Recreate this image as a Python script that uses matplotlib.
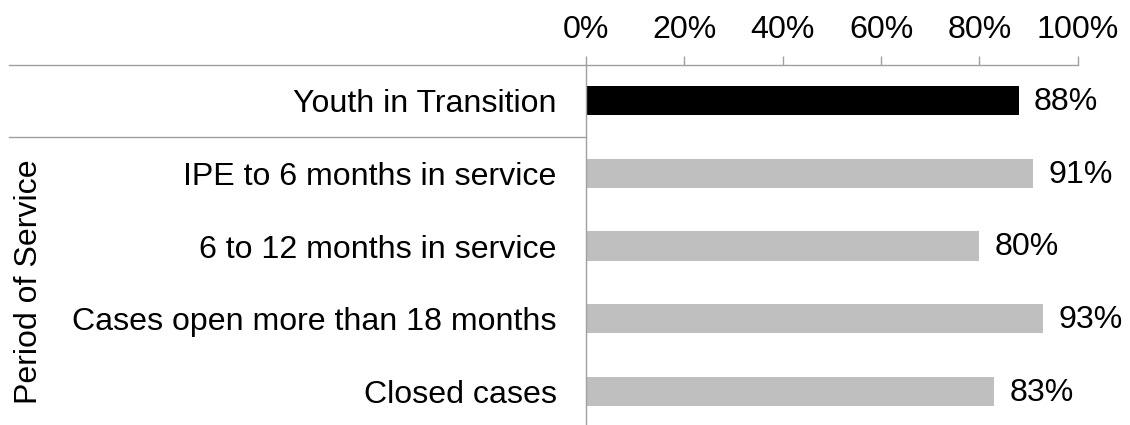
import matplotlib
matplotlib.use("Agg")
import matplotlib.pyplot as plt
from matplotlib.lines import Line2D

plt.rcParams['font.family'] = ['Liberation Sans', 'DejaVu Sans']

categories = ["Youth in Transition", "IPE to 6 months in service",
              "6 to 12 months in service", "Cases open more than 18 months",
              "Closed cases"]
values = [0.88, 0.91, 0.80, 0.93, 0.83]
colors = ["#000000", "#BFBFBF", "#BFBFBF", "#BFBFBF", "#BFBFBF"]
xticks = [0, 0.2, 0.4, 0.6, 0.8, 1.0]
xticklabels = ["0%", "20%", "40%", "60%", "80%", "100%"]
group_label = "Period of Service"

W, H = 1130, 425
FS = 23.1
LINE = "#A0A0A0"

fig = plt.figure(figsize=(W / 100, H / 100), dpi=100)
ax_left, ax_right, ax_top, ax_bot = 586, 1077.7, 64.5, 427.5
ax = fig.add_axes([ax_left / W, 1 - ax_bot / H, (ax_right - ax_left) / W, (ax_bot - ax_top) / H])

y = list(range(len(categories)))
ax.barh(y, values, height=0.4, color=colors)
ax.set_ylim(len(categories) - 0.5, -0.5)
ax.set_xlim(0, 1.0)

for yi, v in zip(y, values):
    ax.annotate(f"{round(v * 100):d}%", (v, yi), xytext=(11, -1), textcoords="offset points",
                va="center", ha="left", fontsize=FS, color="black")

ax.xaxis.tick_top()
ax.set_xticks(xticks)
ax.set_xticklabels(xticklabels, fontsize=FS)
ax.tick_params(axis="x", direction="out", length=6.5, width=1, color=LINE, pad=7.5)
ax.set_yticks(y)
ax.set_yticklabels(categories, fontsize=FS)
ax.tick_params(axis="y", length=0, pad=21)

for s in ax.spines.values():
    s.set_visible(False)
ax.spines["left"].set_visible(True)
ax.spines["left"].set_color(LINE)
ax.spines["left"].set_linewidth(1)

# top axis line extending into the label area
fig.add_artist(Line2D([9 / W, ax_right / W], [1 - ax_top / H, 1 - ax_top / H],
                      color=LINE, lw=1, transform=fig.transFigure))
# separator between groups
fig.add_artist(Line2D([9 / W, ax_left / W], [1 - 137 / H, 1 - 137 / H],
                      color=LINE, lw=1, transform=fig.transFigure))

fig.text(29 / W, 1 - 282 / H, group_label, rotation=90, ha="center", va="center",
         fontsize=FS, color="black")

fig.savefig("out.png", dpi=100)
